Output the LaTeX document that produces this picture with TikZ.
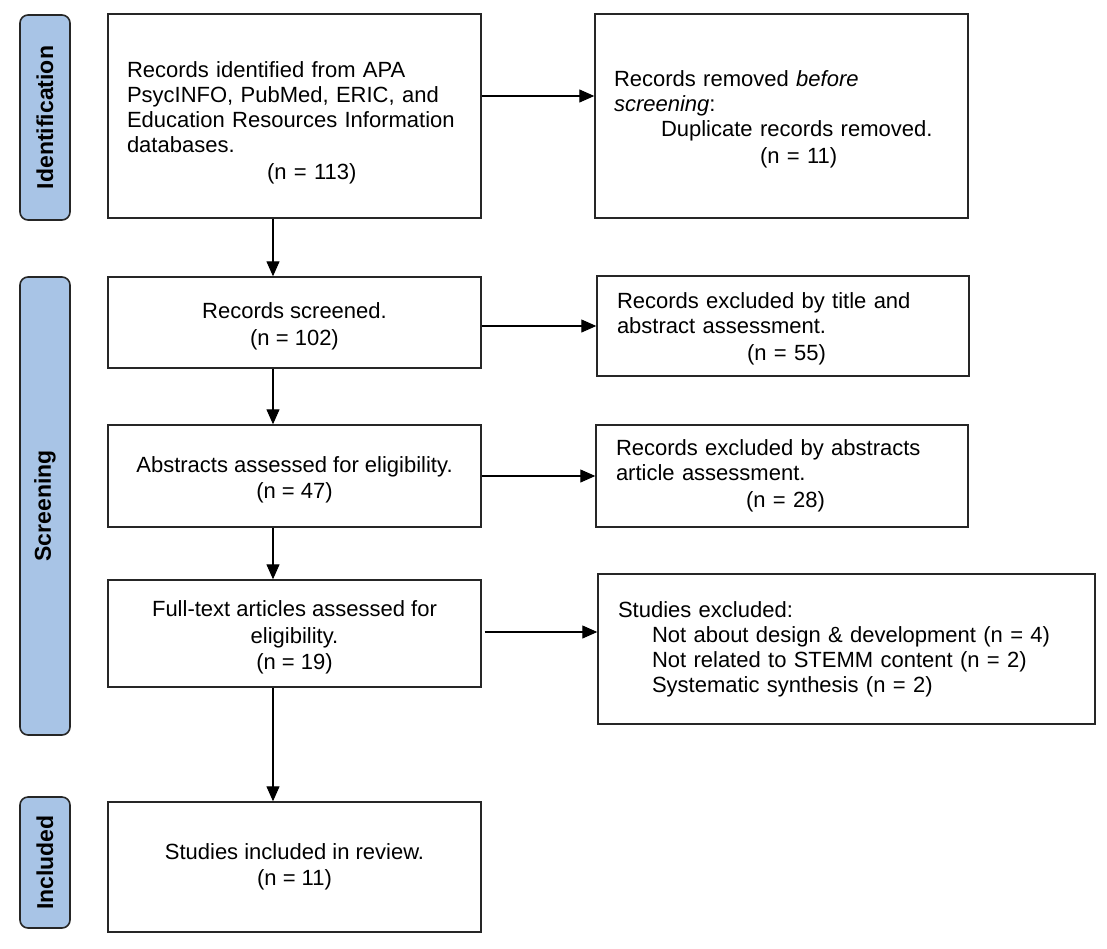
\documentclass[tikz,border=0pt]{standalone}
\usepackage{fontspec}
\setmainfont{Liberation Sans}
\usetikzlibrary{arrows.meta}
\newcommand{\topstrut}[1]{\rule{0pt}{#1}}
\begin{document}
\begin{tikzpicture}[x=1pt,y=-1pt,
  box/.style={draw=black!85, line width=1.4pt, inner sep=0pt, minimum width=373pt,
    font=\fontsize{22}{26.5}\selectfont},
  lbox/.style={box, align=left, font=\fontsize{22}{25}\selectfont},
  cbox/.style={box, align=center},
  phase/.style={draw=black!85, line width=1.6pt, fill=phasefill, rounded corners=8pt,
    rotate=90, minimum height=50pt, inner sep=0pt, font=\fontsize{23}{26}\selectfont\bfseries},
  arr/.style={line width=1.1pt, -{Triangle[width=13pt,length=15pt]}}
]
\definecolor{phasefill}{RGB}{168,196,230}
\useasboundingbox (0,0) rectangle (1107,948);

% phase labels
\node[phase, minimum width=205pt] (pid) at (45,117.5) {Identification};
\node[phase, minimum width=458pt] (psc) at (45,506) {Screening};
\node[phase, minimum width=131pt] (pin) at (45,862.5) {Included};

% boxes
\node[lbox, text width=335pt, minimum height=204pt] (b1) at (294.5,116)
  {\topstrut{30pt}Records identified from APA\\PsycINFO, PubMed, ERIC, and\\Education Resources Information\\databases.\\[2pt]\hspace*{140pt}(n = 113)};
\node[lbox, text width=335pt, minimum height=204pt] (b2) at (781.5,116)
  {\topstrut{22pt}Records removed \textit{before}\\\textit{screening}:\\\hspace*{47pt}Duplicate records removed.\\[2pt]\hspace*{146pt}(n = 11)};
\node[cbox, minimum height=91pt] (b3) at (294.5,322.5) {\topstrut{24pt}Records screened.\\(n = 102)};
\node[lbox, text width=332pt, minimum width=372pt, minimum height=100pt] (b4) at (783,326)
  {\topstrut{22pt}Records excluded by title and\\abstract assessment.\\[2pt]\hspace*{130pt}(n = 55)};
\node[cbox, minimum height=102pt] (b5) at (294.5,476) {\topstrut{24pt}Abstracts assessed for eligibility.\\(n = 47)};
\node[lbox, text width=332pt, minimum width=372pt, minimum height=102pt] (b6) at (782,476)
  {Records excluded by abstracts\\article assessment.\\[2pt]\hspace*{130pt}(n = 28)};
\node[cbox, minimum height=107pt] (b7) at (294.5,633.5) {\topstrut{24pt}Full-text articles assessed for\\eligibility.\\(n = 19)};
\node[lbox, text width=457pt, minimum width=497pt, minimum height=150pt] (b8) at (846.5,649)
  {Studies excluded:\\\hspace*{34pt}Not about design \& development (n = 4)\\\hspace*{34pt}Not related to STEMM content (n = 2)\\\hspace*{34pt}Systematic synthesis (n = 2)};
\node[cbox, minimum height=130pt] (b9) at (294.5,867) {Studies included in review.\\(n = 11)};

% helper coordinates
\coordinate (col) at (273,0);
\coordinate (r1) at (0,96);
\coordinate (r2) at (0,326);
\coordinate (r3) at (0,476);
\coordinate (r4) at (0,632);

% vertical arrows
\draw[arr] (b1.south -| col) -- (b3.north -| col);
\draw[arr] (b3.south -| col) -- (b5.north -| col);
\draw[arr] (b5.south -| col) -- (b7.north -| col);
\draw[arr] (b7.south -| col) -- (b9.north -| col);

% horizontal arrows
\draw[arr] (b1.east |- r1) -- (b2.west |- r1);
\draw[arr] (b3.east |- r2) -- (b4.west |- r2);
\draw[arr] (b5.east |- r3) -- (b6.west |- r3);
\draw[arr] ([xshift=3pt]b7.east |- r4) -- (b8.west |- r4);
\end{tikzpicture}
\end{document}
